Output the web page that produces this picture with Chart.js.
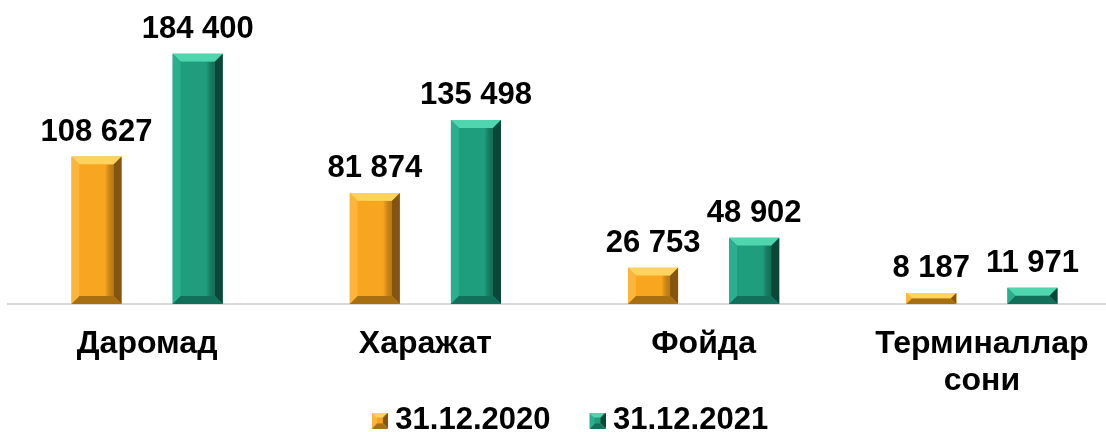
<!DOCTYPE html>
<html>
<head>
<meta charset="utf-8">
<script src="https://cdn.jsdelivr.net/npm/chart.js@4/dist/chart.umd.min.js"></script>
<style>
  html, body { margin: 0; padding: 0; background: #fff; overflow: hidden; }
  #wrap { position: absolute; left: 0; top: 0; width: 1121px; height: 432px; }
</style>
</head>
<body>
<div id="wrap"><canvas id="chart"></canvas></div>
<script>
// data
const categories = ["Даромад", "Харажат", "Фойда", ["Терминаллар", "сони"]];
const seriesNames = ["31.12.2020", "31.12.2021"];
const values2020 = [108627, 81874, 26753, 8187];
const values2021 = [184400, 135498, 48902, 11971];

// colours: face, top, left, right, bottom
const palettes = [
  { face: "#F8A51F", top: "#FFD35E", left: "#FBB53A", right: "#835510", bottom: "#A86E12" },
  { face: "#1F9E7E", top: "#50D6AF", left: "#2AAE8D", right: "#0B4738", bottom: "#12705A" }
];

const FONT = "Arial, 'Liberation Sans', sans-serif";

function fmt(v) {
  return String(v).replace(/\B(?=(\d{3})+(?!\d))/g, " ");
}

function poly(ctx, pts, color) {
  ctx.beginPath();
  ctx.moveTo(pts[0][0], pts[0][1]);
  for (let i = 1; i < pts.length; i++) ctx.lineTo(pts[i][0], pts[i][1]);
  ctx.closePath();
  ctx.fillStyle = color;
  ctx.fill();
}

// legend box width (space before each square) and gap between items
const LEG_BOX = 41, LEG_PAD = 6;

// bevelled square for the legend, drawn at the right end of a wider image
function makeIcon(p) {
  const s = 16, m = 5;
  const c = document.createElement("canvas");
  c.width = LEG_BOX + s; c.height = s;
  const g = c.getContext("2d");
  g.translate(c.width - s, 0);
  poly(g, [[0, 0], [s, 0], [s - m, m], [m, m]], p.top);
  poly(g, [[0, 0], [m, m], [m, s - m], [0, s]], p.left);
  poly(g, [[s, 0], [s, s], [s - m, s - m], [s - m, m]], p.right);
  poly(g, [[0, s], [s, s], [s - m, s - m], [m, s - m]], p.bottom);
  g.fillStyle = p.face;
  g.fillRect(m, m, s - 2 * m, s - 2 * m);
  return c;
}
const legendIcons = palettes.map(makeIcon);

// bevel + value labels on top of each bar
const bevelPlugin = {
  id: "bevel",
  afterLayout(chart) {
    // legend sits a little left of the plot centre in the original
    chart.legend.left -= 11;
    chart.legend.right -= 11;
    chart.legend.top += 2;
    chart.legend.bottom += 2;
  },
  afterDatasetsDraw(chart) {
    const ctx = chart.ctx;
    chart.data.datasets.forEach((ds, di) => {
      const p = palettes[di];
      chart.getDatasetMeta(di).data.forEach((bar, i) => {
        const L = bar.x - bar.width / 2, R = bar.x + bar.width / 2;
        const T = bar.y, B = bar.base;
        const b = Math.min(8, (B - T) / 2);
        ctx.save();
        poly(ctx, [[L, T], [R, T], [R - b, T + b], [L + b, T + b]], p.top);
        poly(ctx, [[L, T], [L + b, T + b], [L + b, B - b], [L, B]], p.left);
        poly(ctx, [[R, T], [R, B], [R - b, B - b], [R - b, T + b]], p.right);
        poly(ctx, [[L, B], [R, B], [R - b, B - b], [L + b, B - b]], p.bottom);
        const grad = ctx.createLinearGradient(L + b, 0, R - b, 0);
        grad.addColorStop(0, p.face);
        grad.addColorStop(0.75, p.face);
        grad.addColorStop(1, p.right + "88");
        ctx.fillStyle = grad;
        ctx.fillRect(L + b, T + b, R - L - 2 * b, B - T - 2 * b);
        ctx.fillStyle = "#000";
        ctx.font = "bold 31px " + FONT;
        ctx.textAlign = "center";
        ctx.textBaseline = "alphabetic";
        ctx.fillText(fmt(ds.data[i]), bar.x, T - 16);
        ctx.restore();
      });
    });
  }
};

new Chart(document.getElementById("chart"), {
  type: "bar",
  data: {
    labels: categories,
    datasets: [
      { label: seriesNames[0], data: values2020, backgroundColor: palettes[0].face },
      { label: seriesNames[1], data: values2021, backgroundColor: palettes[1].face }
    ]
  },
  options: {
    responsive: true,
    maintainAspectRatio: false,
    animation: false,
    categoryPercentage: 0.727,
    barPercentage: 0.495,
    layout: { padding: { left: 8, right: 0, top: 0, bottom: -12 } },
    scales: {
      x: {
        grid: { display: false, drawTicks: false },
        border: { display: true, color: "#D9D9D9", width: 2 },
        ticks: {
          color: "#000",
          padding: 21.5,
          font: { family: FONT, size: 32, weight: "bold", lineHeight: 1.156 }
        },
        afterFit(scale) { scale.height = 93; }
      },
      y: { display: false, min: 0, max: 224000 }
    },
    plugins: {
      tooltip: { enabled: false },
      legend: {
        position: "bottom",
        labels: {
          color: "#000",
          usePointStyle: true,
          pointStyleWidth: LEG_BOX,
          boxHeight: 16,
          padding: LEG_PAD,
          font: { family: FONT, size: 31, weight: "bold" },
          generateLabels(chart) {
            const items = Chart.defaults.plugins.legend.labels.generateLabels(chart);
            items.forEach((it, i) => { it.pointStyle = legendIcons[i]; });
            return items;
          }
        }
      }
    }
  },
  plugins: [bevelPlugin]
});
</script>
</body>
</html>
